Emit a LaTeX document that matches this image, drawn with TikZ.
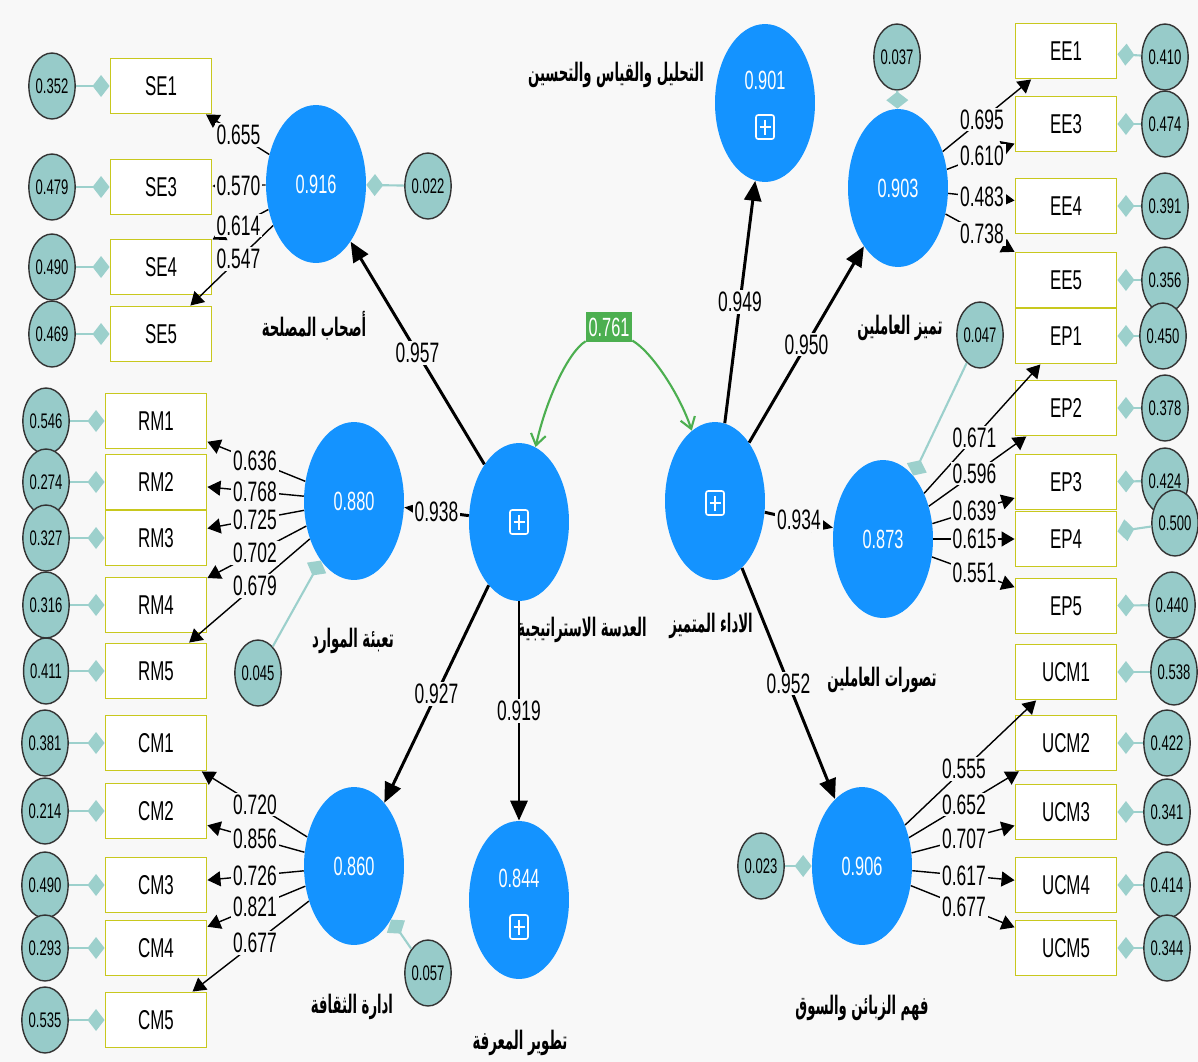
\documentclass[tikz,border=0pt]{standalone}
\usepackage{fontspec}
\setmainfont{Liberation Sans}[FakeStretch=0.62]
\newfontfamily\arabicfont[Script=Arabic,FakeStretch=0.52]{DejaVu Sans}
\TeXXeTstate=1
\usetikzlibrary{shapes.geometric,arrows.meta}

\definecolor{bgc}{HTML}{F8F8F8}
\definecolor{lvblue}{HTML}{1493FF}
\definecolor{errteal}{HTML}{97CBC9}
\definecolor{tealln}{HTML}{9CD0CC}
\definecolor{boxyel}{HTML}{C8C81E}
\definecolor{covgreen}{HTML}{4CAF50}

\tikzset{
  lv/.style={ellipse, fill=lvblue, minimum width=2cm, minimum height=3.16cm, inner sep=0pt, text=white, font=\fontsize{15}{17}\selectfont},
  lvval/.style={text=white, inner sep=0pt, font=\fontsize{15}{17}\selectfont},
  ind/.style={rectangle, draw=boxyel, line width=1.1pt, fill=white, minimum width=2.02cm, minimum height=1.1cm, font=\fontsize{15.5}{17}\selectfont},
  err/.style={ellipse, draw=black!80, line width=0.8pt, fill=errteal, minimum width=0.84cm, minimum height=1.32cm, inner sep=0pt, font=\fontsize{12}{14}\selectfont},
  errln/.style={draw=tealln, line width=1.2pt, -{Diamond[length=0.34cm,width=0.44cm,fill=tealln]}},
  ld/.style={-{Triangle[length=0.26cm,width=0.3cm]}, line width=0.8pt},
  strc/.style={-{Triangle[length=0.4cm,width=0.34cm]}, line width=1.7pt},
  ldg/.style={fill=bgc, inner sep=1pt, font=\fontsize{16}{18}\selectfont},
  cov/.style={draw=covgreen, line width=1.2pt, -{Straight Barb[length=0.22cm,width=0.3cm]}},
  covbox/.style={fill=covgreen, text=white, minimum width=0.92cm, minimum height=0.6cm, inner sep=1pt, font=\fontsize{15}{17}\selectfont},
  lvname/.style={inner sep=0pt, font=\arabicfont\bfseries\fontsize{14.5}{16}\selectfont},
  plusicon/.pic={
    \draw[white, line width=0.9pt, rounded corners=1.2pt] (-9,-12) rectangle (9,12);
    \draw[white, line width=0.9pt] (-5.5,0) -- (5.5,0) (0,-7.5) -- (0,7.5);
  }
}

\begin{document}
\begin{tikzpicture}[x=0.02cm,y=-0.02cm]
  \fill[bgc] (0,0) rectangle (1198,1062);
  \useasboundingbox (0,0) rectangle (1198,1062);

  % latent variables
  \node[lv] (sl) at (519,522) {};
  \node[lv] (dp) at (715,501) {};
  \node[lv] (se) at (316,184) {0.916};
  \node[lv] (rm) at (354,501) {0.880};
  \node[lv] (cm) at (354,866) {0.860};
  \node[lv] (kd) at (519,900) {};
  \node[lv] (ami) at (765,103) {};
  \node[lv] (ee) at (898,188) {0.903};
  \node[lv] (ep) at (883,539) {0.873};
  \node[lv] (ucm) at (862,866) {0.906};
  \node[lvval] (kd-v) at (519,878) {0.844};
  \node[lvval] (ami-v) at (765,80) {0.901};
  \pic at (519,522) {plusicon};
  \pic at (715,503) {plusicon};
  \pic at (519,927) {plusicon};
  \pic at (765,127) {plusicon};

  % names
  \node[lvname] (se-n) at (314,326) {\beginR أصحاب المصلحة\endR};
  \node[lvname] (rm-n) at (353,641) {\beginR تعبئة الموارد\endR};
  \node[lvname] (cm-n) at (352,1007) {\beginR ادارة الثقافة\endR};
  \node[lvname] (kd-n) at (520,1043) {\beginR تطوير المعرفة\endR};
  \node[lvname] (sl-n) at (582,630) {\beginR العدسة الاستراتيجية\endR};
  \node[lvname] (dp-n) at (711,626) {\beginR الاداء المتميز\endR};
  \node[lvname] (ami-n) at (616,75) {\beginR التحليل والقياس والتحسين\endR};
  \node[lvname] (ee-n) at (900,328) {\beginR تميز العاملين\endR};
  \node[lvname] (ep-n) at (882,680) {\beginR تصورات العاملين\endR};
  \node[lvname] (ucm-n) at (862,1008) {\beginR فهم الزبائن والسوق\endR};

  % indicators, left
  \foreach \i/\y/\e in {1/86/0.352,3/187/0.479,4/267/0.490,5/334/0.469}{
    \node[ind] (se\i) at (161,\y) {SE\i};
    \node[err] (ese\i) at (52,\y) {\e};
    \draw[errln] (ese\i) -- (se\i);
  }
  \foreach \i/\y/\e in {1/421/0.546,2/482/0.274,3/538/0.327,4/605/0.316,5/671/0.411}{
    \node[ind] (rm\i) at (156,\y) {RM\i};
    \node[err] (erm\i) at (46,\y) {\e};
    \draw[errln] (erm\i) -- (rm\i);
  }
  \foreach \i/\y/\e in {1/743/0.381,2/811/0.214,3/885/0.490,4/948/0.293,5/1020/0.535}{
    \node[ind] (cm\i) at (156,\y) {CM\i};
    \node[err] (ecm\i) at (45,\y) {\e};
    \draw[errln] (ecm\i) -- (cm\i);
  }

  % indicators, right
  \foreach \i/\y/\ex/\ey/\e in {1/51/1165/57/0.410,3/124/1165/124/0.474,4/206/1165/206/0.391,5/280/1165/280/0.356}{
    \node[ind] (ee\i) at (1066,\y) {EE\i};
    \node[err] (eee\i) at (\ex,\ey) {\e};
    \draw[errln] (eee\i) -- (ee\i);
  }
  \foreach \i/\y/\ex/\ey/\e in {1/336/1163/336/0.450,2/408/1165/408/0.378,3/482/1165/481/0.424,4/539/1175/523/0.500,5/606/1172/605/0.440}{
    \node[ind] (ep\i) at (1066,\y) {EP\i};
    \node[err] (eep\i) at (\ex,\ey) {\e};
    \draw[errln] (eep\i) -- (ep\i);
  }
  \foreach \i/\y/\ex/\ey/\e in {1/672/1174/672/0.538,2/743/1167/743/0.422,3/812/1167/812/0.341,4/885/1167/885/0.414,5/948/1167/948/0.344}{
    \node[ind] (ucm\i) at (1066,\y) {UCM\i};
    \node[err] (eucm\i) at (\ex,\ey) {\e};
    \draw[errln] (eucm\i) -- (ucm\i);
  }

  % errors of latent variables
  \node[err] (ese) at (428,186) {0.022};
  \node[err] (erm) at (258,673) {0.045};
  \node[err] (ecm) at (428,973) {0.057};
  \node[err] (eee) at (897,57) {0.037};
  \node[err] (eep) at (980,335) {0.047};
  \node[err] (eucm) at (761,866) {0.023};
  \foreach \t in {se,rm,cm,ee,ep,ucm}
    \draw[errln] (e\t) -- (\t);

  % outer loadings
  \foreach \i in {1,3,4,5} \draw[ld] (se) -- (se\i);
  \foreach \i in {1,...,5} \draw[ld] (rm) -- (rm\i);
  \foreach \i in {1,...,5} \draw[ld] (cm) -- (cm\i);
  \foreach \i in {1,3,4,5} \draw[ld] (ee) -- (ee\i);
  \foreach \i in {1,...,5} \draw[ld] (ep) -- (ep\i);
  \foreach \i in {1,...,5} \draw[ld] (ucm) -- (ucm\i);

  % paths
  \foreach \t in {se,rm,cm,kd} \draw[strc] (sl) -- (\t);
  \foreach \t in {ami,ee,ep,ucm} \draw[strc] (dp) -- (\t);

  % covariance
  \node[covbox] (cov) at (609,327) {0.761};
  \draw[cov] (cov) .. controls (568,352) and (546,400) .. (sl);
  \draw[cov] (cov) .. controls (652,352) and (680,395) .. (dp);

  % coefficients
  \foreach \i/\v in {1/0.655,3/0.570,4/0.614,5/0.547}
    \path (se.center) -- (se\i.center) node[ldg,midway] (se-l\i) {\v};
  \foreach \i/\v in {1/0.636,2/0.768,3/0.725,4/0.702,5/0.679}
    \path (rm.center) -- (rm\i.center) node[ldg,midway] (rm-l\i) {\v};
  \foreach \i/\v in {1/0.720,2/0.856,3/0.726,4/0.821,5/0.677}
    \path (cm.center) -- (cm\i.center) node[ldg,midway] (cm-l\i) {\v};
  \foreach \i/\v in {1/0.695,3/0.610,4/0.483,5/0.738}
    \path (ee.center) -- (ee\i.center) node[ldg,midway] (ee-l\i) {\v};
  \foreach \i/\v in {1/0.671,2/0.596,3/0.639,4/0.615,5/0.551}
    \path (ep.center) -- (ep\i.center) node[ldg,midway] (ep-l\i) {\v};
  \foreach \i/\v in {1/0.555,2/0.652,3/0.707,4/0.617,5/0.677}
    \path (ucm.center) -- (ucm\i.center) node[ldg,midway] (ucm-l\i) {\v};
  \foreach \t/\v in {se/0.957,rm/0.938,cm/0.927,kd/0.919}
    \path (sl.center) -- (\t.center) node[ldg,midway] (sl-\t) {\v};
  \foreach \t/\v in {ami/0.949,ee/0.950,ep/0.934,ucm/0.952}
    \path (dp.center) -- (\t.center) node[ldg,midway] (dp-\t) {\v};
\end{tikzpicture}
\end{document}
